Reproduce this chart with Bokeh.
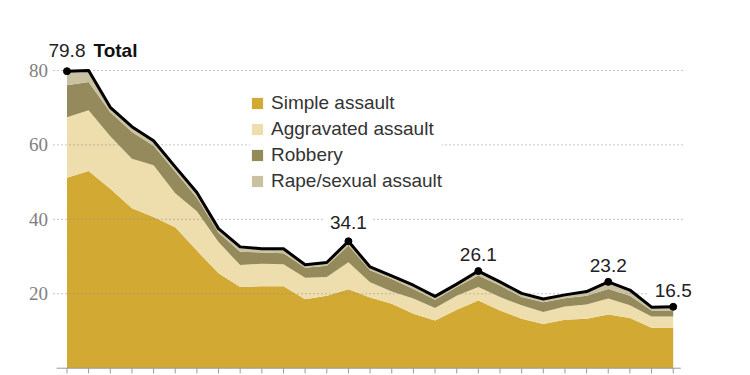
from bokeh.plotting import figure
from bokeh.models import ColumnDataSource, Legend, LegendItem, Label, Range1d
from bokeh.embed import file_html
from bokeh.resources import INLINE

years = list(range(1993, 2022))
simple = [51.2, 53.0, 48.2, 43.0, 40.6, 37.9, 31.6, 25.5, 21.8, 22.0, 22.0, 18.5, 19.5, 21.2,
          19.0, 17.3, 14.6, 12.8, 15.7, 18.2, 15.5, 13.3, 11.9, 13.0, 13.3, 14.4, 13.5, 10.9, 10.9]
aggravated = [16.2, 16.3, 14.1, 13.3, 13.9, 9.1, 10.6, 8.4, 5.9, 6.1, 5.9, 5.8, 5.0, 7.3,
              4.1, 3.3, 4.1, 3.4, 3.8, 3.6, 3.6, 3.6, 3.2, 3.6, 3.8, 4.3, 3.4, 3.0, 3.0]
robbery = [8.6, 7.6, 6.5, 7.2, 5.3, 5.8, 3.6, 2.5, 3.6, 3.0, 3.0, 2.7, 3.0, 4.5,
           3.2, 3.4, 2.6, 2.2, 2.3, 3.1, 3.1, 2.2, 2.6, 2.2, 2.4, 2.6, 2.6, 1.6, 1.6]
rape = [3.8, 3.1, 1.3, 1.4, 1.3, 1.3, 1.4, 1.1, 1.3, 1.0, 1.2, 0.8, 0.9, 1.1,
        0.9, 0.8, 1.0, 0.9, 0.8, 1.2, 1.0, 1.0, 0.9, 0.9, 1.1, 1.9, 1.5, 0.9, 1.0]
total = [79.8, 80.0, 70.1, 64.9, 61.1, 54.1, 47.2, 37.5, 32.6, 32.1, 32.1, 27.8, 28.4, 34.1,
         27.2, 24.8, 22.3, 19.3, 22.6, 26.1, 23.2, 20.1, 18.6, 19.7, 20.6, 23.2, 21.0, 16.4, 16.5]

series_names = ["Simple assault", "Aggravated assault", "Robbery", "Rape/sexual assault"]
series_colors = ["#D2A933", "#EEDEAD", "#958A5B", "#C9C1A1"]

label_years = [1993, 2006, 2012, 2018, 2021]
label_texts = ["79.8", "34.1", "26.1", "23.2", "16.5"]
y_ticks = [20, 40, 60, 80]
y_tick_labels = ["20", "40", "60", "80"]

font = "Liberation Sans"

src = ColumnDataSource(dict(year=years, simple=simple, aggravated=aggravated,
                            robbery=robbery, rape=rape, total=total))

# frame spans the whole canvas; axes are drawn as glyphs through the scales
p = figure(width=750, height=375, output_backend="svg", toolbar_location=None,
           x_range=Range1d(years[0] - 3.07, years[-1] + 3.57),
           y_range=Range1d(-1.96, 98.8),
           x_axis_location=None, y_axis_location=None,
           min_border_left=0, min_border_right=0, min_border_top=0, min_border_bottom=0)
p.outline_line_color = None
p.background_fill_color = "white"
p.border_fill_color = "white"
p.xgrid.visible = False
p.ygrid.visible = False

rs = p.varea_stack(stackers=["simple", "aggravated", "robbery", "rape"], x="year",
                   color=series_colors, source=src)

# dotted horizontal gridlines on top of the areas
gx0 = years[0] - 0.62
gx1 = years[-1] + 0.44
p.segment(x0=[gx0] * len(y_ticks), x1=[gx1] * len(y_ticks), y0=y_ticks, y1=y_ticks,
          line_color="#8c8c8c", line_width=1, line_dash="1 3")

# y tick labels
p.text(x=[years[0] - 0.88] * len(y_ticks), y=y_ticks, text=y_tick_labels,
       text_align="right", text_baseline="middle", text_font=font,
       text_font_size="19px", text_color="#808080")

# x axis baseline and ticks
p.segment(x0=[years[0] - 0.48], x1=[years[-1] + 0.35], y0=[0], y1=[0],
          line_color="#9a9a9a", line_width=1)
p.segment(x0=years, x1=years, y0=[0] * len(years), y1=[-1.4] * len(years),
          line_color="#9a9a9a", line_width=1)

p.line("year", "total", source=src, color="black", line_width=3, line_join="round")
lab_vals = [total[years.index(y)] for y in label_years]

for yr, val, txt in zip(label_years, lab_vals, label_texts):
    if yr == 1993:
        p.add_layout(Label(x=yr, y=val, text=txt, x_offset=-18.5, y_offset=21,
                           text_align="left", text_baseline="alphabetic",
                           text_font=font, text_font_size="19px", text_color="#222222"))
        p.add_layout(Label(x=yr, y=val, text="Total", x_offset=26.5, y_offset=21,
                           text_align="left", text_baseline="alphabetic", text_font_style="bold",
                           text_font=font, text_font_size="19px", text_color="#111111"))
    else:
        off = 19 if yr == 2006 else 16.5
        p.add_layout(Label(x=yr, y=val, text=txt, x_offset=0, y_offset=off,
                           text_align="center", text_baseline="alphabetic",
                           text_font=font, text_font_size="19px", text_color="#222222",
                           background_fill_color="white",
                           padding=dict(left=6, right=6, top=0, bottom=0)))

# dots drawn last so that they sit above everything
dots = p.scatter(x=label_years, y=lab_vals, size=7, color="black")
dots.level = "overlay"

legend = Legend(items=[LegendItem(label=n, renderers=[r]) for n, r in zip(series_names, rs)],
                location=(250, 183), background_fill_color="white", background_fill_alpha=1,
                border_line_color=None, padding=7, spacing=4, margin=0,
                glyph_width=14, glyph_height=14, label_height=20, label_standoff=7,
                label_text_font=font, label_text_font_size="19px", label_text_color="#333333")
p.add_layout(legend)

open("out.html", "w").write(file_html(p, INLINE))
